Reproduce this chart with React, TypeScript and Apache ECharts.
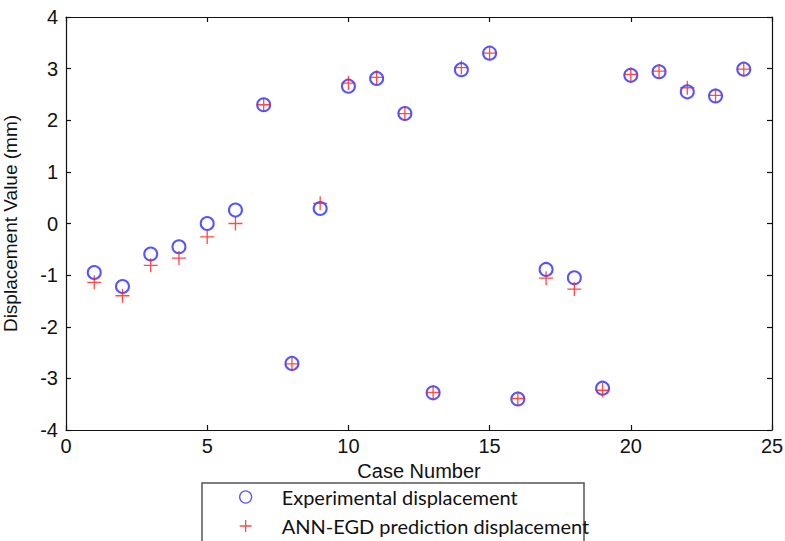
import React, { useEffect, useRef } from "react";
import * as echarts from "echarts";

const caseNumbers = [1, 2, 3, 4, 5, 6, 7, 8, 9, 10, 11, 12, 13, 14, 15, 16, 17, 18, 19, 20, 21, 22, 23, 24];
const experimental = [-0.95, -1.22, -0.59, -0.45, 0.0, 0.26, 2.3, -2.71, 0.29, 2.66, 2.81, 2.13, -3.28, 2.98, 3.3, -3.4, -0.89, -1.05, -3.19, 2.87, 2.94, 2.55, 2.47, 2.99];
const predicted = [-1.14, -1.4, -0.81, -0.67, -0.26, 0.0, 2.3, -2.72, 0.39, 2.72, 2.83, 2.13, -3.27, 3.02, 3.3, -3.39, -1.06, -1.27, -3.23, 2.89, 2.95, 2.63, 2.48, 2.99];
const seriesNames = ["Experimental displacement", "ANN-EGD prediction displacement"];
const xTitle = "Case Number";
const yTitle = "Displacement Value (mm)";

const AXIS_FONT = "'Liberation Sans', Arial, sans-serif";
const PLUS = "path://M0,6H12M6,0V12";

export default function App() {
  const ref = useRef<HTMLDivElement>(null);
  useEffect(() => {
    if (!ref.current) return;
    const chart = echarts.init(ref.current, undefined, { renderer: "svg" });
    const axisLine = { show: true, onZero: false, lineStyle: { color: "#111", width: 1.2 } };
    const tick = { show: true, inside: true, length: 5, lineStyle: { color: "#111", width: 1.2 } };
    chart.setOption({
      animation: false,
      backgroundColor: "#fff",
      grid: { left: 66, right: 13, top: 17, bottom: 111, containLabel: false, outerBoundsMode: "none" },
      xAxis: [
        {
          type: "value", min: 0, max: 25, interval: 5, position: "bottom",
          axisLine, axisTick: tick, splitLine: { show: false },
          axisLabel: { margin: 6, fontSize: 20, color: "#111", fontFamily: AXIS_FONT },
          name: xTitle, nameLocation: "middle", nameGap: 30,
          nameTextStyle: { fontSize: 20, color: "#111", fontFamily: AXIS_FONT },
        },
        {
          type: "value", min: 0, max: 25, interval: 5, position: "top",
          axisLine, axisTick: tick, splitLine: { show: false }, axisLabel: { show: false },
        },
      ],
      yAxis: [
        {
          type: "value", min: -4, max: 4, interval: 1, position: "left",
          axisLine, axisTick: tick, splitLine: { show: false },
          axisLabel: { margin: 8, fontSize: 20, color: "#111", fontFamily: AXIS_FONT },
          name: yTitle, nameLocation: "middle", nameGap: 46, nameRotate: 90,
          nameTextStyle: { fontSize: 19, color: "#111", fontFamily: AXIS_FONT },
        },
        {
          type: "value", min: -4, max: 4, interval: 1, position: "right",
          axisLine, axisTick: tick, splitLine: { show: false }, axisLabel: { show: false },
        },
      ],
      legend: {
        orient: "vertical",
        left: 239,
        top: 487,
        width: 340,
        height: 80,
        padding: 0,
        itemWidth: 12,
        itemHeight: 12,
        itemGap: 9,
        textStyle: { fontSize: 20, color: "#111", fontFamily: "Lato, 'Open Sans', sans-serif", padding: [0, 0, 0, 25] },
        data: [
          { name: seriesNames[0], icon: "circle", itemStyle: { color: "#fff", borderColor: "#2b2bff", borderWidth: 1.3 } },
          { name: seriesNames[1], icon: PLUS, itemStyle: { color: "#ff1a1a", borderColor: "#ff1a1a", borderWidth: 1.3 } },
        ],
      },
      graphic: [
        {
          type: "rect",
          shape: { x: 202, y: 483, width: 382, height: 80 },
          style: { fill: "none", stroke: "#555", lineWidth: 1.5 },
          silent: true,
        },
      ],
      series: [
        {
          type: "scatter",
          name: seriesNames[0],
          data: caseNumbers.map((c, i) => [c, experimental[i]]),
          symbol: "emptyCircle",
          symbolSize: 13,
          itemStyle: { color: "#2b2bff", borderColor: "#2b2bff", borderWidth: 1.2 },
          z: 2,
        },
        {
          type: "scatter",
          name: seriesNames[1],
          data: caseNumbers.map((c, i) => [c, predicted[i]]),
          symbol: PLUS,
          symbolSize: 14,
          itemStyle: { color: "#ff1a1a", borderColor: "#ff1a1a", borderWidth: 1.3 },
          z: 3,
        },
      ],
    });
    return () => chart.dispose();
  }, []);
  return (
    <div
      ref={ref}
      style={{ position: "absolute", left: 0, top: 0, width: 785, height: 541, background: "#fff" }}
    />
  );
}
